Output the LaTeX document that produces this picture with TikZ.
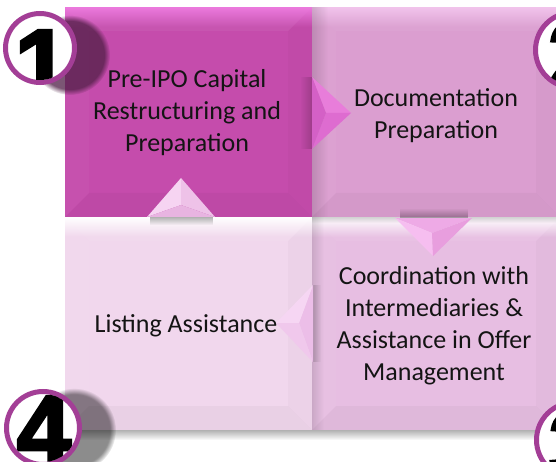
\documentclass[tikz,border=0pt]{standalone}
\usepackage{fontspec}
\setmainfont{Carlito}
\newfontfamily\digitfont[FakeBold=3]{Liberation Sans}
\usetikzlibrary{fadings,calc}

% tile colours
\definecolor{tileA}{RGB}{197,76,172}
\definecolor{tileB}{RGB}{219,158,208}
\definecolor{tileC}{RGB}{231,190,226}
\definecolor{tileD}{RGB}{241,215,237}
\definecolor{glossA}{RGB}{236,122,222}
\definecolor{glossB}{RGB}{242,196,236}
\definecolor{ringcol}{RGB}{163,62,150}
\definecolor{textcol}{RGB}{20,20,20}
% pyramid arrow facets
\definecolor{upL}{RGB}{246,212,242}
\definecolor{upR}{RGB}{238,194,232}
\definecolor{upB}{RGB}{232,180,225}
\definecolor{rtT}{RGB}{232,125,218}
\definecolor{rtB}{RGB}{222,108,208}
\definecolor{rtL}{RGB}{212,96,198}
\definecolor{dnT}{RGB}{238,170,230}
\definecolor{dnL}{RGB}{246,190,240}
\definecolor{dnR}{RGB}{232,158,222}
\definecolor{ltR}{RGB}{236,190,232}
\definecolor{ltT}{RGB}{246,214,243}
\definecolor{ltB}{RGB}{240,200,236}

\tikzfading[name=fadedown, top color=transparent!0, bottom color=transparent!100]
\tikzfading[name=fadeup, top color=transparent!100, bottom color=transparent!0]
\tikzfading[name=faderight, left color=transparent!0, right color=transparent!100]
\tikzfading[name=fadeleft, left color=transparent!100, right color=transparent!0]

\tikzset{
  tile/.style 2 args={rectangle, inner sep=0pt, fill=#1,
    path picture={
      \path (path picture bounding box.north west) coordinate (pNW)
            (path picture bounding box.north east) coordinate (pNE)
            (path picture bounding box.south west) coordinate (pSW)
            (path picture bounding box.south east) coordinate (pSE);
      \path ($(pNW)+(24pt,-24pt)$) coordinate (iNW)
            ($(pNE)+(-24pt,-24pt)$) coordinate (iNE)
            ($(pSW)+(24pt,24pt)$) coordinate (iSW)
            ($(pSE)+(-24pt,24pt)$) coordinate (iSE);
      \fill[white, opacity=.05] (pNW) -- (pNE) -- (iNE) -- (iNW) -- cycle;
      \fill[white, opacity=.03] (pNW) -- (iNW) -- (iSW) -- (pSW) -- cycle;
      \fill[black, opacity=.02] (pNE) -- (pSE) -- (iSE) -- (iNE) -- cycle;
      \fill[black, opacity=.03] (pSW) -- (iSW) -- (iSE) -- (pSE) -- cycle;
      \fill[#2, path fading=fadedown] (pNW) rectangle ($(pNE)+(0,-20pt)$);
    }},
  label/.style={align=center, inner sep=0pt, text=textcol,
    font=\fontsize{26}{32}\selectfont},
  badge/.style={circle, draw=ringcol, line width=5pt, fill=white, inner sep=0pt},
  digit/.style={inner sep=0pt, text=black,
    font=\digitfont\bfseries\fontsize{98}{98}\selectfont},
  softshade/.style={black, opacity=#1},
}

\begin{document}
\begin{tikzpicture}[x=1pt, y=-1pt]
\useasboundingbox (0,0) rectangle (556,462);
\clip (0,0) rectangle (556,462);

% four tiles
\node[tile={tileA}{glossA}, minimum width=247pt, minimum height=210pt] (s1) at (188.5,112) {};
\node[tile={tileB}{glossB}, minimum width=248pt, minimum height=210pt] (s2) at (436,112) {};
\node[tile={tileC}{white}, minimum width=248pt, minimum height=213pt] (s3) at (436,323.5) {};
\node[tile={tileD}{white}, minimum width=247pt, minimum height=213pt] (s4) at (188.5,323.5) {};

% edge shading between tiles
\fill[softshade=.14, path fading=faderight] (s2.north west) rectangle ($(s2.south west)+(16pt,0)$);
\fill[softshade=.12, path fading=faderight] (s3.north west) rectangle ($(s3.south west)+(12pt,0)$);
\fill[softshade=.18, path fading=fadedown] (s3.north west) rectangle ($(s3.north east)+(0,-6pt)$);
\fill[softshade=.30, path fading=fadedown] (s4.south west) rectangle ($(s3.south east)+(0,-10pt)$);

% tile texts
\node[label] (t1) at (187,113) {Pre-IPO Capital\\Restructuring and\\Preparation};
\node[label] (t2) at (436,116) {Documentation\\Preparation};
\node[label] (t3) at (434,326) {Coordination with\\Intermediaries \&\\Assistance in Offer\\Management};
\node[label] (t4) at (186,326) {Listing Assistance};

% arrow: up (tile 4 -> tile 1)
\path (147,217) coordinate (u1) (215,217) coordinate (u2)
      (181,178) coordinate (u3) (181,205) coordinate (uc);
\fill[softshade=.30, path fading=fadedown] (150,217) rectangle (213,225);
\fill[upL] (u1) -- (u3) -- (uc) -- cycle;
\fill[upR] (u3) -- (u2) -- (uc) -- cycle;
\fill[upB] (u1) -- (uc) -- (u2) -- cycle;

% arrow: right (tile 1 -> tile 2)
\path (312,77) coordinate (r1) (312,149) coordinate (r2)
      (351,113) coordinate (r3) (326,113) coordinate (rc);
\fill[softshade=.18, path fading=fadeleft] (300,77) rectangle (312,149);
\fill[rtT] (r1) -- (r3) -- (rc) -- cycle;
\fill[rtB] (r2) -- (r3) -- (rc) -- cycle;
\fill[rtL] (r1) -- (rc) -- (r2) -- cycle;

% arrow: down (tile 2 -> tile 3)
\path (395,218) coordinate (d1) (472,218) coordinate (d2)
      (433,256) coordinate (d3) (432,233) coordinate (dc);
\fill[softshade=.30, path fading=fadeup] (400,208) rectangle (468,218);
\fill[dnT] (d1) -- (d2) -- (dc) -- cycle;
\fill[dnL] (d1) -- (dc) -- (d3) -- cycle;
\fill[dnR] (d2) -- (d3) -- (dc) -- cycle;

% arrow: left (tile 3 -> tile 4)
\path (313,285) coordinate (l1) (313,362) coordinate (l2)
      (276,323) coordinate (l3) (299,323) coordinate (lc);
\fill[softshade=.15, path fading=faderight] (313,285) rectangle (321,362);
\fill[ltR] (l1) -- (lc) -- (l2) -- cycle;
\fill[ltT] (l1) -- (l3) -- (lc) -- cycle;
\fill[ltB] (l3) -- (l2) -- (lc) -- cycle;

% number badges with cast shadows
\fill[black!60!tileA, opacity=.75, path fading=circle with fuzzy edge 15 percent] (70,55) circle (40);
\fill[black, opacity=.45, path fading=circle with fuzzy edge 15 percent] (74,430) circle (42);

\node[badge, minimum size=69pt] (b1) at (40,48) {};
\node[badge, minimum size=75pt] (b2) at (573,50) {};
\node[badge, minimum size=75pt] (b3) at (574,440) {};
\node[badge, minimum size=73pt] (b4) at (43,428) {};

\begin{scope}
  \clip (b1.center) circle (32pt);
  \node[digit] (n1) at (42,64) {1};
\end{scope}
\begin{scope}
  \clip (b2.center) circle (35pt);
  \node[digit] (n2) at (575,56) {2};
\end{scope}
\begin{scope}
  \clip (b3.center) circle (35pt);
  \node[digit] (n3) at (576,446) {3};
\end{scope}
\begin{scope}
  \clip (b4.center) circle (34pt);
  \node[digit] (n4) at (44,430) {4};
\end{scope}
\end{tikzpicture}
\end{document}
